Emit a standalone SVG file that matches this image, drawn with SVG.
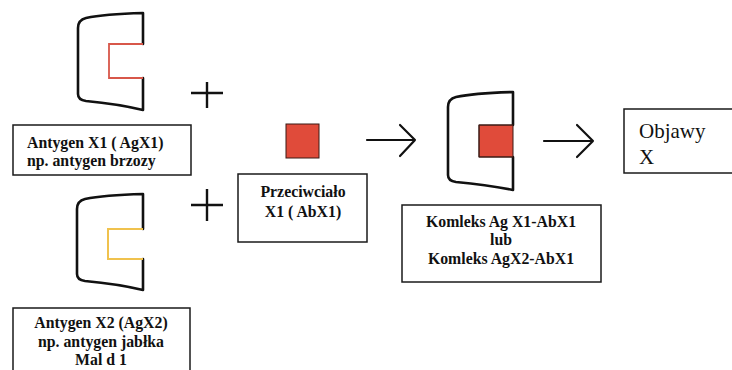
<svg xmlns="http://www.w3.org/2000/svg" width="732" height="370" viewBox="0 0 732 370">
  <style>
    .bg { fill: #ffffff; }
    .box { fill: #ffffff; stroke: #1a1a1a; stroke-width: 1.5; }
    .cell { fill: none; stroke: #111111; stroke-width: 2.6; stroke-linejoin: round; stroke-linecap: round; }
    .site-red { fill: none; stroke: #d8574a; stroke-width: 1.8; }
    .site-yellow { fill: none; stroke: #f0c24e; stroke-width: 2; }
    .ab { fill: #e04b3a; stroke: #3a1a14; stroke-width: 1; }
    .plus { stroke: #111111; stroke-width: 2.4; fill: none; }
    .arrow { stroke: #111111; stroke-width: 2.2; fill: none; stroke-linecap: round; stroke-linejoin: round; }
    .lbl { font-family: "Liberation Serif", "Times New Roman", serif; font-weight: bold; font-size: 15.8px; fill: #111111; }
    .mid { text-anchor: middle; }
    .big { font-family: "Liberation Serif", "Times New Roman", serif; font-size: 21px; fill: #111111; }
  </style>

  <rect class="bg" x="0" y="0" width="732" height="370"/>

  <!-- antigen X1 with red binding site -->
  <g id="antigen-x1">
    <path class="cell" d="M143,44 V13 Q104,14 86,18 Q78,20 78,28 V94 Q78,100 86,101 Q118,104 143,110 V78"/>
    <path class="site-red" d="M143,44 H109 V78 H143"/>
  </g>
  <g id="label-x1">
    <rect class="box" x="13" y="125" width="178" height="50"/>
    <text class="lbl" x="27" y="148">Antygen X1 ( AgX1)</text>
    <text class="lbl" x="27" y="166">np. antygen brzozy</text>
  </g>

  <!-- antigen X2 with yellow binding site -->
  <g id="antigen-x2">
    <path class="cell" d="M143,229 V194 Q104,195 85,199 Q77,201 77,209 V274 Q77,280 85,281 Q118,284 143,290 V259"/>
    <path class="site-yellow" d="M143,229 H108 V259 H143"/>
  </g>
  <g id="label-x2">
    <rect class="box" x="13" y="308" width="177" height="66"/>
    <text class="lbl mid" x="101" y="328">Antygen X2 (AgX2)</text>
    <text class="lbl mid" x="101" y="347">np. antygen jabłka</text>
    <text class="lbl mid" x="101" y="365">Mal d 1</text>
  </g>

  <!-- antibody X1 -->
  <g id="antibody">
    <rect class="ab" x="286" y="124" width="33" height="34"/>
  </g>
  <g id="label-antibody">
    <rect class="box" x="238" y="174" width="129" height="68"/>
    <text class="lbl mid" x="303" y="197">Przeciwciało</text>
    <text class="lbl mid" x="303" y="217">X1 ( AbX1)</text>
  </g>

  <!-- antigen-antibody complex -->
  <g id="complex">
    <path class="cell" d="M513,125 V92 Q474,93 456,97 Q448,99 448,107 V175 Q448,181 456,182 Q488,185 513,190 V157"/>
    <rect class="ab" x="479" y="125" width="34" height="32" stroke="none"/>
    <path d="M513,125 H479 V157 H513" fill="none" stroke="#3a1a14" stroke-width="1"/>
  </g>
  <g id="label-complex">
    <rect class="box" x="402" y="205" width="199" height="77"/>
    <text class="lbl mid" x="501" y="227">Komleks Ag X1-AbX1</text>
    <text class="lbl mid" x="501" y="245">lub</text>
    <text class="lbl mid" x="501" y="264">Komleks AgX2-AbX1</text>
  </g>

  <!-- symptoms -->
  <g id="symptoms">
    <rect class="box" x="624" y="109" width="112" height="64"/>
    <text class="big" x="639" y="138">Objawy</text>
    <text class="big" x="639" y="164">X</text>
  </g>

  <!-- plus signs and reaction arrows -->
  <g id="connectors">
    <path class="plus" d="M191,93 H223 M207,82 V108"/>
    <path class="plus" d="M191,205 H223 M207,189 V221"/>
    <path class="arrow" d="M367,140 H415 M400,125 L415,140 L400,156"/>
    <path class="arrow" d="M544,141 H593 M577,125 L593,141 L577,157"/>
  </g>
</svg>
